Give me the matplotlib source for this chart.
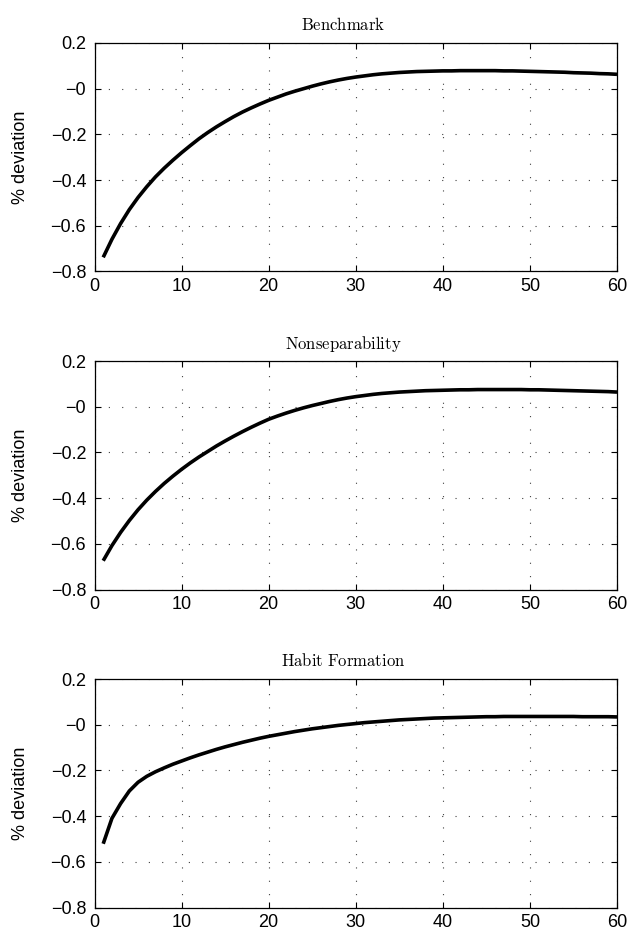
import numpy as np
import matplotlib.pyplot as plt

# impulse responses, periods 1..60
periods = list(range(1, 61))

benchmark = [-0.738, -0.659, -0.590, -0.529, -0.476, -0.429, -0.386, -0.348, -0.313, -0.280,
             -0.249, -0.219, -0.192, -0.167, -0.144, -0.122, -0.102, -0.084, -0.067, -0.051,
             -0.037, -0.023, -0.011, 0.000, 0.011, 0.021, 0.030, 0.038, 0.045, 0.051,
             0.056, 0.061, 0.065, 0.068, 0.071, 0.073, 0.075, 0.076, 0.077, 0.078,
             0.078, 0.079, 0.079, 0.079, 0.079, 0.079, 0.078, 0.078, 0.077, 0.076,
             0.075, 0.074, 0.073, 0.072, 0.070, 0.069, 0.068, 0.066, 0.065, 0.063]

nonseparability = [-0.674, -0.608, -0.550, -0.498, -0.451, -0.409, -0.371, -0.336, -0.304, -0.274,
                   -0.246, -0.220, -0.196, -0.172, -0.150, -0.129, -0.109, -0.090, -0.072, -0.055,
                   -0.041, -0.028, -0.016, -0.005, 0.005, 0.014, 0.023, 0.031, 0.038, 0.044,
                   0.049, 0.054, 0.058, 0.061, 0.064, 0.066, 0.068, 0.070, 0.071, 0.072,
                   0.073, 0.074, 0.074, 0.075, 0.075, 0.075, 0.075, 0.075, 0.075, 0.074,
                   0.074, 0.073, 0.072, 0.071, 0.070, 0.069, 0.068, 0.067, 0.066, 0.064]

habit = [-0.521, -0.410, -0.345, -0.290, -0.252, -0.226, -0.206, -0.189, -0.173, -0.159,
         -0.145, -0.132, -0.120, -0.108, -0.097, -0.087, -0.077, -0.068, -0.059, -0.051,
         -0.044, -0.037, -0.030, -0.024, -0.018, -0.013, -0.008, -0.003, 0.001, 0.005,
         0.009, 0.012, 0.015, 0.018, 0.021, 0.023, 0.025, 0.027, 0.029, 0.030,
         0.031, 0.032, 0.033, 0.034, 0.035, 0.035, 0.036, 0.036, 0.036, 0.036,
         0.036, 0.036, 0.036, 0.036, 0.036, 0.035, 0.035, 0.035, 0.035, 0.034]

titles = ['Benchmark', 'Nonseparability', 'Habit Formation']
series = [benchmark, nonseparability, habit]

yticks = [0.2, 0.0, -0.2, -0.4, -0.6, -0.8]
yticklabels = ['0.2', '\u22120', '\u22120.2', '\u22120.4', '\u22120.6', '\u22120.8']
xticks = [0, 10, 20, 30, 40, 50, 60]

plt.rcParams['font.family'] = ['Liberation Sans', 'DejaVu Sans']
plt.rcParams['mathtext.fontset'] = 'cm'

fig = plt.figure(figsize=(6.37, 9.41), dpi=100)

W, H = 637.0, 941.0
left, right = 94.5, 617.0
tops = [43.0, 361.0, 679.0]
h = 228.5

for top, title, vals in zip(tops, titles, series):
    ax = fig.add_axes([left / W, 1 - (top + h) / H, (right - left) / W, h / H])
    ax.plot(periods, vals, color='black', linewidth=2.6, solid_capstyle='butt')
    ax.set_xlim(0, 60)
    ax.set_ylim(-0.8, 0.2)
    ax.set_xticks(xticks)
    ax.set_yticks(yticks, yticklabels)
    ax.grid(True, linestyle=(0, (1, 11)), color='0.25', linewidth=0.8)
    ax.tick_params(direction='in', length=4, width=0.8, top=True, right=True,
                   labelsize=13, pad=6)
    ax.tick_params(axis='x', pad=5)
    for sp in ax.spines.values():
        sp.set_linewidth(0.9)
    ax.set_ylabel('% deviation', fontsize=13)
    ax.yaxis.set_label_coords(-0.125, 0.5)
    t = title.replace(' ', r'\ ')
    ax.set_title(r'$\mathrm{' + t + '}$', fontsize=12, pad=9, x=0.476)

fig.savefig('out.png', dpi=100)
